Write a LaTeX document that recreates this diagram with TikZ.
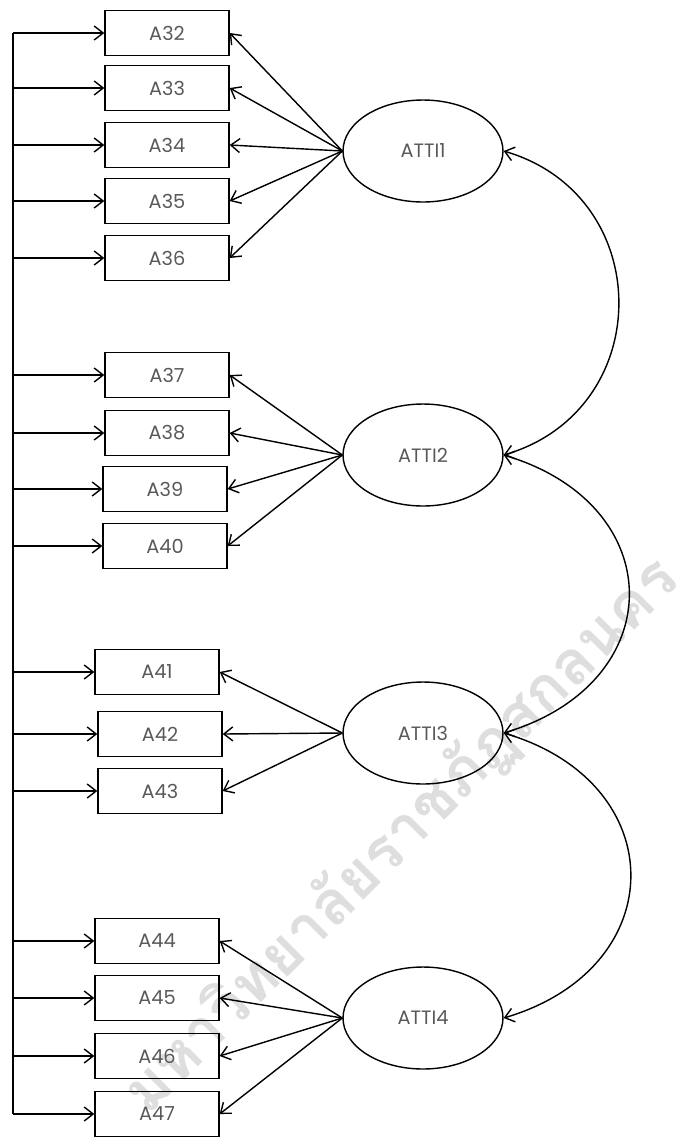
\documentclass[tikz,border=0pt]{standalone}
\usepackage{fontspec}
\setmainfont{Poppins}
\newfontfamily\thaifont[Script=Thai]{Loma}
\usepackage{tikz}
\usetikzlibrary{arrows.meta,shapes.geometric}

\begin{document}
\begin{tikzpicture}[x=0.02cm,y=-0.02cm,
  item/.style={draw,line width=0.8pt,minimum width=2.48cm,minimum height=0.9cm,inner sep=0pt,text=black!65,font=\fontsize{11}{12}\selectfont},
  factor/.style={ellipse,draw,line width=0.8pt,minimum width=3.2cm,minimum height=2.04cm,inner sep=0pt,text=black!65,font=\fontsize{11}{12}\selectfont},
  load/.style={line width=0.8pt,-{Straight Barb[length=1.8mm,width=2.8mm]}},
  corr/.style={line width=0.8pt,{Straight Barb[length=1.8mm,width=2.8mm]}-{Straight Barb[length=1.8mm,width=2.8mm]}}]
  \useasboundingbox (0,0) rectangle (688,1137);
  % watermark
  \node[rotate=45,text=black!13,font=\thaifont\bfseries\fontsize{35}{40}\selectfont] (mark) at (402,836) {มหาวิทยาลัยราชภัฏสกลนคร};
  % observed variables
  \node[item] (A32) at (167,33) {A32};
  \node[item] (A33) at (167,88) {A33};
  \node[item] (A34) at (167,145) {A34};
  \node[item] (A35) at (167,201) {A35};
  \node[item] (A36) at (167,258) {A36};
  \node[item] (A37) at (167,375) {A37};
  \node[item] (A38) at (167,433) {A38};
  \node[item] (A39) at (165,489) {A39};
  \node[item] (A40) at (165,546) {A40};
  \node[item] (A41) at (157,672) {A41};
  \node[item] (A42) at (160,734) {A42};
  \node[item] (A43) at (160,791) {A43};
  \node[item] (A44) at (157,941) {A44};
  \node[item] (A45) at (157,998) {A45};
  \node[item] (A46) at (157,1056) {A46};
  \node[item] (A47) at (157,1114) {A47};
  % latent factors
  \node[factor] (F1) at (423,151) {ATTI1};
  \node[factor] (F2) at (423,455) {ATTI2};
  \node[factor] (F3) at (423,733) {ATTI3};
  \node[factor] (F4) at (423,1018) {ATTI4};
  % left rail
  \coordinate (railtop) at (13,33);
  \coordinate (railbot) at (13,1114);
  \draw[line width=0.8pt] (railtop) -- (railbot);
  \foreach \v in {32,...,47}
    \draw[load] (A\v.west -| railtop) -- (A\v.west);
  % loadings
  \foreach \v in {32,...,36} \draw[load] (F1.west) -- (A\v.east);
  \foreach \v in {37,...,40} \draw[load] (F2.west) -- (A\v.east);
  \foreach \v in {41,...,43} \draw[load] (F3.west) -- (A\v.east);
  \foreach \v in {44,...,47} \draw[load] (F4.west) -- (A\v.east);
  % correlations
  \draw[corr] (F1.east) .. controls +(153,45) and +(153,-45) .. (F2.east);
  \draw[corr] (F2.east) .. controls +(167,50) and +(167,-50) .. (F3.east);
  \draw[corr] (F3.east) .. controls +(169,50) and +(169,-50) .. (F4.east);
\end{tikzpicture}
\end{document}
